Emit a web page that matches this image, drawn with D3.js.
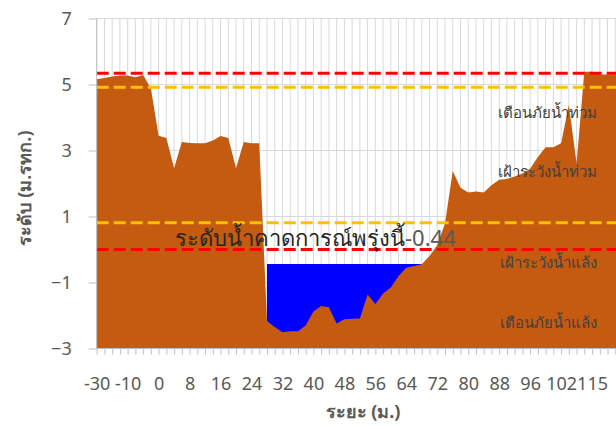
<!DOCTYPE html>
<html>
<head>
<meta charset="utf-8">
<script src="https://cdn.jsdelivr.net/npm/d3@7"></script>
<style>
  body { margin: 0; background: #fff; }
  svg { display: block; font-family: "Noto Sans", "DejaVu Sans", sans-serif; }
</style>
</head>
<body>
<div id="graph"></div>
<script>
// distance categories (x axis)
const distances = [-30, -25, -20, -15, -10, -8, -5, -2,
  0, 2, 4, 6, 8, 10, 12, 14, 16, 18, 20, 22, 24, 26, 28, 30, 32, 34, 36, 38, 40,
  42, 44, 46, 48, 50, 52, 54, 56, 58, 60, 62, 64, 66, 68, 70, 72, 74, 76, 78, 80,
  82, 84, 86, 88, 90, 92, 94, 96, 98, 100, 101, 102, 105, 108, 112, 115, 118, 121, 124, 127];
// ground level (m.MSL)
const ground = [5.16, 5.20, 5.24, 5.27, 5.27, 5.22, 5.29, 4.88,
  3.45, 3.38, 2.46, 3.26, 3.23, 3.22, 3.22, 3.30, 3.44, 3.38, 2.46, 3.26, 3.22, 3.22,
  -2.17, -2.35, -2.51, -2.48, -2.48, -2.30, -1.88, -1.71, -1.75, -2.24, -2.11, -2.10, -2.09,
  -1.36, -1.65, -1.33, -1.15, -0.80, -0.55, -0.50, -0.45, -0.20, 0.14, 0.79,
  2.38, 1.87, 1.73, 1.76, 1.73, 1.95, 2.11, 2.14, 2.21, 2.30, 2.45, 2.80, 3.10, 3.10, 3.22,
  4.38, 2.61, 5.39, 5.39, 5.30, 5.30, 5.30, 5.30];
// forecast water level, only where the channel is
const forecast = -0.44;
const water = distances.map((d, i) => (i >= 22 && i <= 42) ? forecast : null);
// tick labels shown on the x axis
const xLabels = [-30, -10, 0, 8, 16, 24, 32, 40, 48, 56, 64, 72, 80, 88, 96, 102, 115];
const yTicks = [-3, -1, 1, 3, 5, 7];
// threshold levels
const levelNames = ['เตือนภัยน้ำท่วม', 'เฝ้าระวังน้ำท่วม', 'เฝ้าระวังน้ำแล้ง', 'เตือนภัยน้ำแล้ง'];
const levelValues = [5.34, 4.92, 0.81, 0.0];
const levelColors = ['#ff0000', '#ffc000', '#ffc000', '#ff0000'];

const width = 616, height = 426;
const plotLeft = 96.7, step = 7.74, plotTop = 18.5, plotBottom = 348.5;

const svg = d3.select('#graph').append('svg')
  .attr('width', width).attr('height', height);

const x = d3.scalePoint().domain(distances).range([plotLeft, plotLeft + step * (distances.length - 1)]);
const y = d3.scaleLinear().domain([-3, 7]).range([plotBottom, plotTop]);

//gridlines
svg.append('g').selectAll('line').data(distances).enter().append('line')
  .attr('x1', d => x(d)).attr('x2', d => x(d))
  .attr('y1', plotTop).attr('y2', plotBottom)
  .attr('stroke', '#d9d9d9').attr('stroke-width', 1);
svg.append('g').selectAll('line').data(yTicks).enter().append('line')
  .attr('x1', plotLeft).attr('x2', width)
  .attr('y1', d => y(d)).attr('y2', d => y(d))
  .attr('stroke', '#d9d9d9').attr('stroke-width', 1);

//water then ground
const waterArea = d3.area()
  .defined(d => d.v !== null)
  .x(d => x(d.k)).y0(y(-3)).y1(d => y(d.v));
svg.append('path')
  .datum(distances.map((k, i) => ({k: k, v: water[i]})))
  .attr('fill', '#0000ff')
  .attr('d', waterArea);

const groundArea = d3.area().x(d => x(d.k)).y0(y(-3)).y1(d => y(d.v));
svg.append('path')
  .datum(distances.map((k, i) => ({k: k, v: ground[i]})))
  .attr('fill', '#c55a11')
  .attr('d', groundArea);

//threshold lines
svg.append('g').selectAll('line').data(levelValues).enter().append('line')
  .attr('x1', plotLeft).attr('x2', width)
  .attr('y1', d => y(d)).attr('y2', d => y(d))
  .attr('stroke', (d, i) => levelColors[i])
  .attr('stroke-width', 3)
  .attr('stroke-dasharray', '12,5');

//axes
const xAxis = d3.axisBottom(x).tickSize(6).tickFormat(d => xLabels.includes(d) ? d : '');
const gx = svg.append('g')
  .attr('transform', 'translate(0,' + plotBottom + ')')
  .call(xAxis);
gx.select('.domain').attr('stroke', '#bfbfbf').attr('d', 'M' + plotLeft + ',0H' + width);
gx.selectAll('.tick line').attr('stroke', '#bfbfbf');
gx.selectAll('.tick text').attr('fill', '#595959').attr('font-size', 18).attr('dy', 0).attr('y', 41)
  .attr('font-family', '"Noto Sans", sans-serif');

const yAxis = d3.axisLeft(y).tickValues(yTicks).tickSize(8).tickPadding(17).tickFormat(d3.format('d'));
const gy = svg.append('g')
  .attr('transform', 'translate(' + plotLeft + ',0)')
  .call(yAxis);
gy.select('.domain').attr('stroke', '#bfbfbf').attr('d', 'M0,' + plotTop + 'V' + plotBottom);
gy.selectAll('.tick line').attr('stroke', '#bfbfbf');
gy.selectAll('.tick text').attr('fill', '#595959').attr('font-size', 18)
  .attr('font-family', '"Noto Sans", sans-serif');

//axis titles
svg.append('text')
  .attr('transform', 'translate(31,188) rotate(-90)')
  .attr('text-anchor', 'middle')
  .attr('fill', '#595959').attr('font-size', 18).attr('font-weight', 'bold')
  .text('ระดับ (ม.รทก.)');
svg.append('text')
  .attr('x', 363).attr('y', 418)
  .attr('text-anchor', 'middle')
  .attr('fill', '#595959').attr('font-size', 18).attr('font-weight', 'bold')
  .text('ระยะ (ม.)');

//level labels
const labelY = [4.0, 2.2, -0.56, -2.38];
svg.append('g').selectAll('text').data(levelNames).enter().append('text')
  .attr('x', 597).attr('y', (d, i) => y(labelY[i]))
  .attr('text-anchor', 'end')
  .attr('fill', '#404040').attr('font-size', 15)
  .text(d => d);

//forecast label
const fl = svg.append('text')
  .attr('x', 175).attr('y', 246)
  .attr('font-size', 22).attr('fill', '#262626');
fl.append('tspan').text('ระดับน้ำคาดการณ์พรุ่งนี้');
fl.append('tspan').attr('fill', '#595959').text(forecast.toFixed(2));
</script>
</body>
</html>
